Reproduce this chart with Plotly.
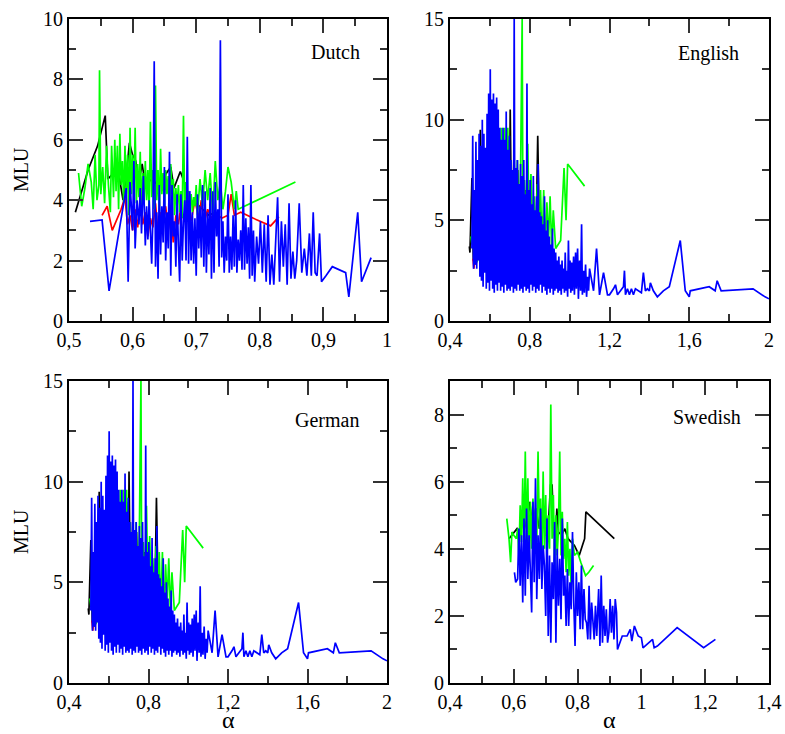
import plotly.graph_objects as go

# ---------------- Dutch ----------------
dutch_black_x = [0.51, 0.52, 0.53, 0.545, 0.557, 0.561, 0.57, 0.578, 0.585, 0.59, 0.595, 0.6, 0.605, 0.61, 0.615, 0.62, 0.63, 0.64, 0.65, 0.66, 0.665, 0.675, 0.683, 0.69, 0.7, 0.71, 0.72, 0.73]
dutch_black_y = [3.6, 4.3, 5.0, 5.8, 6.8, 4.7, 4.9, 4.9, 4.0, 4.8, 5.9, 5.5, 5.3, 4.6, 5.2, 4.5, 4.7, 4.5, 4.8, 5.1, 4.4, 4.95, 4.5, 4.0, 3.9, 3.7, 3.5, 3.6]

dutch_red_x = [0.552, 0.56, 0.568, 0.576, 0.582, 0.588, 0.592, 0.596, 0.6, 0.604, 0.608, 0.612, 0.616, 0.62, 0.624, 0.628, 0.632, 0.636, 0.64, 0.644, 0.648, 0.652, 0.656, 0.66, 0.664, 0.668, 0.672, 0.676, 0.68, 0.686, 0.692, 0.698, 0.704, 0.708, 0.712, 0.718, 0.724, 0.73, 0.74, 0.75, 0.755, 0.76, 0.77, 0.79, 0.817, 0.83]
dutch_red_y = [3.5, 3.8, 3.0, 3.4, 3.7, 4.1, 3.2, 3.5, 3.0, 3.7, 3.1, 3.9, 3.2, 3.6, 2.8, 3.4, 3.1, 3.9, 2.9, 3.6, 3.3, 3.8, 3.0, 3.6, 2.6, 3.5, 3.2, 3.8, 3.4, 3.7, 3.3, 4.0, 3.4, 4.0, 3.2, 3.7, 3.4, 3.6, 3.4, 3.5, 4.2, 3.5, 3.6, 3.4, 3.15, 3.45]

dutch_green_x = [0.515, 0.52, 0.525, 0.53, 0.535, 0.538, 0.541, 0.544, 0.547, 0.548, 0.55, 0.553, 0.556, 0.559, 0.562, 0.565, 0.567, 0.57, 0.572, 0.574, 0.576, 0.578, 0.58, 0.582, 0.584, 0.586, 0.588, 0.59, 0.592, 0.594, 0.596, 0.598, 0.6, 0.602, 0.604, 0.606, 0.608, 0.61, 0.612, 0.614, 0.616, 0.618, 0.62, 0.622, 0.624, 0.626, 0.628, 0.63, 0.632, 0.634, 0.636, 0.638, 0.64, 0.642, 0.644, 0.646, 0.648, 0.65, 0.652, 0.654, 0.656, 0.658, 0.66, 0.662, 0.664, 0.666, 0.668, 0.67, 0.672, 0.674, 0.676, 0.678, 0.68, 0.682, 0.684, 0.686, 0.688, 0.69, 0.692, 0.694, 0.696, 0.698, 0.7, 0.702, 0.706, 0.71, 0.714, 0.718, 0.722, 0.726, 0.73, 0.734, 0.738, 0.742, 0.746, 0.75, 0.755, 0.76, 0.763, 0.766, 0.856]
dutch_green_y = [4.9, 3.8, 4.4, 5.2, 4.6, 3.7, 5.5, 4.0, 4.5, 8.3, 4.2, 5.1, 3.9, 5.8, 4.5, 3.6, 5.8, 4.1, 6.0, 4.3, 5.8, 3.7, 6.2, 4.5, 5.3, 3.9, 5.8, 4.2, 5.5, 3.5, 6.4, 4.2, 5.5, 4.0, 6.4, 3.9, 5.2, 4.1, 5.6, 3.6, 4.9, 3.9, 5.3, 4.0, 5.0, 3.6, 6.6, 4.1, 5.0, 3.7, 7.8, 4.0, 5.0, 3.6, 5.7, 4.2, 4.9, 3.8, 5.0, 4.2, 4.8, 3.6, 5.2, 4.2, 4.7, 3.5, 4.4, 3.8, 4.5, 3.6, 4.3, 3.4, 6.8, 3.6, 4.6, 3.9, 4.3, 3.8, 4.2, 3.6, 4.1, 3.8, 4.5, 3.5, 4.7, 3.8, 5.0, 4.0, 4.9, 3.5, 5.3, 4.0, 4.6, 3.7, 4.3, 5.1, 4.6, 3.7, 4.3, 3.7, 4.6]

dutch_blue_x = [0.533, 0.552, 0.563, 0.59, 0.593, 0.596, 0.6, 0.602, 0.604, 0.607, 0.61, 0.612, 0.614, 0.617, 0.62, 0.622, 0.624, 0.626, 0.628, 0.63, 0.632, 0.634, 0.636, 0.638, 0.64, 0.642, 0.644, 0.646, 0.648, 0.65, 0.652, 0.654, 0.656, 0.658, 0.66, 0.662, 0.664, 0.666, 0.668, 0.67, 0.672, 0.674, 0.676, 0.678, 0.68, 0.682, 0.684, 0.686, 0.688, 0.69, 0.692, 0.694, 0.696, 0.698, 0.7, 0.702, 0.704, 0.706, 0.708, 0.71, 0.712, 0.714, 0.716, 0.718, 0.72, 0.722, 0.724, 0.726, 0.728, 0.73, 0.732, 0.734, 0.736, 0.738, 0.74, 0.742, 0.744, 0.746, 0.748, 0.75, 0.752, 0.754, 0.756, 0.758, 0.76, 0.762, 0.764, 0.766, 0.768, 0.77, 0.772, 0.774, 0.776, 0.778, 0.78, 0.782, 0.784, 0.786, 0.788, 0.79, 0.792, 0.795, 0.798, 0.801, 0.804, 0.807, 0.81, 0.813, 0.816, 0.819, 0.822, 0.825, 0.828, 0.831, 0.834, 0.837, 0.84, 0.843, 0.846, 0.849, 0.852, 0.855, 0.858, 0.862, 0.866, 0.87, 0.874, 0.878, 0.881, 0.884, 0.887, 0.89, 0.894, 0.897, 0.9, 0.904, 0.914, 0.935, 0.94, 0.954, 0.96, 0.975]
dutch_blue_y = [3.3, 3.35, 1.0, 4.4, 1.3, 4.6, 3.0, 5.3, 2.4, 4.0, 3.2, 4.4, 2.9, 4.8, 2.5, 3.8, 2.7, 4.0, 3.0, 1.9, 3.5, 8.6, 1.8, 3.6, 1.4, 4.5, 2.2, 3.8, 2.6, 5.1, 2.0, 3.6, 2.4, 5.6, 1.5, 4.5, 2.8, 3.3, 1.8, 4.2, 2.5, 1.3, 4.2, 2.0, 3.3, 4.0, 2.0, 6.1, 1.9, 4.3, 2.0, 3.6, 1.9, 3.4, 1.5, 4.2, 2.4, 3.8, 2.1, 4.5, 1.8, 4.3, 1.6, 3.6, 2.2, 4.4, 1.4, 4.3, 1.6, 4.6, 2.8, 3.7, 1.8, 9.3, 2.1, 3.3, 1.6, 2.8, 2.0, 4.2, 1.6, 2.8, 1.7, 3.5, 1.8, 4.0, 1.6, 2.7, 2.0, 3.0, 1.7, 4.5, 1.7, 3.4, 1.9, 3.1, 1.4, 4.5, 1.5, 3.0, 1.3, 2.8, 1.9, 3.3, 1.6, 3.2, 1.3, 3.5, 1.2, 2.2, 1.2, 2.5, 4.1, 1.3, 3.3, 1.8, 3.2, 1.2, 3.9, 1.4, 2.3, 1.4, 2.0, 3.9, 1.6, 2.4, 1.5, 2.9, 1.5, 3.6, 1.6, 1.5, 2.9, 1.3, 1.4, 1.5, 1.8, 1.6, 0.8, 3.6, 1.3, 2.1]

# ---------------- English (the German panel shows the same curves) ----------------
english_black_x = [0.497, 0.5, 0.51, 0.517, 0.525, 0.532, 0.54, 0.547, 0.552, 0.56, 0.57, 0.58, 0.59, 0.6, 0.61, 0.62, 0.63, 0.64, 0.65, 0.66, 0.67, 0.68, 0.69, 0.698, 0.702, 0.71, 0.72, 0.73, 0.74, 0.75, 0.76, 0.77, 0.78, 0.79, 0.8, 0.81, 0.82, 0.83, 0.84, 0.85, 0.86]
english_black_y = [3.7, 3.4, 7.1, 3.0, 6.0, 3.0, 7.0, 3.2, 9.5, 2.8, 8.0, 3.0, 8.5, 3.2, 9.0, 3.0, 9.5, 3.5, 9.0, 3.2, 8.6, 3.0, 9.0, 3.5, 10.5, 3.5, 8.0, 3.5, 7.5, 3.6, 7.0, 3.5, 6.5, 3.4, 6.0, 3.2, 5.5, 3.0, 9.2, 3.5, 5.0]

english_red_x = [0.515, 0.52, 0.525, 0.53, 0.535]
english_red_y = [3.1, 2.6, 3.2, 2.8, 3.0]

english_green_x = [0.505, 0.51, 0.515, 0.52, 0.525, 0.53, 0.538, 0.546, 0.554, 0.562, 0.57, 0.578, 0.586, 0.594, 0.602, 0.61, 0.618, 0.626, 0.634, 0.642, 0.65, 0.658, 0.666, 0.674, 0.682, 0.69, 0.698, 0.706, 0.714, 0.722, 0.73, 0.738, 0.746, 0.754, 0.762, 0.766, 0.774, 0.782, 0.79, 0.798, 0.806, 0.814, 0.822, 0.83, 0.838, 0.846, 0.854, 0.862, 0.87, 0.878, 0.886, 0.894, 0.902, 0.91, 0.918, 0.926, 0.93, 0.955, 0.972, 0.982, 0.99, 1.075]
english_green_y = [4.2, 3.8, 5.0, 3.3, 4.0, 2.9, 3.0, 7.5, 3.2, 8.0, 3.5, 8.3, 3.4, 9.0, 3.6, 8.7, 3.5, 9.5, 3.3, 9.6, 3.8, 9.6, 3.4, 9.6, 3.6, 9.6, 4.0, 8.0, 3.5, 8.0, 4.5, 8.0, 3.8, 7.5, 15.0, 4.5, 7.0, 4.2, 8.8, 4.0, 7.3, 4.3, 6.2, 3.8, 6.8, 4.0, 6.5, 3.6, 6.5, 3.4, 5.9, 4.0, 6.2, 3.6, 5.5, 4.2, 3.6, 4.0, 7.6, 5.0, 7.8, 6.7]

english_blue_x = [0.51, 0.514, 0.518, 0.522, 0.526, 0.53, 0.534, 0.538, 0.542, 0.546, 0.55, 0.554, 0.558, 0.562, 0.566, 0.57, 0.574, 0.578, 0.582, 0.586, 0.59, 0.594, 0.598, 0.602, 0.606, 0.61, 0.614, 0.618, 0.622, 0.626, 0.63, 0.634, 0.638, 0.642, 0.646, 0.65, 0.654, 0.658, 0.662, 0.666, 0.67, 0.674, 0.678, 0.682, 0.686, 0.69, 0.694, 0.698, 0.702, 0.706, 0.71, 0.714, 0.718, 0.722, 0.726, 0.73, 0.734, 0.738, 0.742, 0.746, 0.75, 0.754, 0.758, 0.762, 0.766, 0.77, 0.774, 0.778, 0.782, 0.786, 0.79, 0.794, 0.798, 0.802, 0.806, 0.81, 0.814, 0.818, 0.822, 0.826, 0.83, 0.834, 0.838, 0.842, 0.846, 0.85, 0.854, 0.858, 0.862, 0.866, 0.87, 0.874, 0.878, 0.882, 0.886, 0.89, 0.894, 0.898, 0.902, 0.906, 0.91, 0.914, 0.918, 0.922, 0.926, 0.93, 0.934, 0.938, 0.942, 0.946, 0.95, 0.954, 0.958, 0.962, 0.966, 0.97, 0.974, 0.978, 0.982, 0.986, 0.99, 0.994, 0.998, 1.002, 1.006, 1.01, 1.014, 1.02, 1.024, 1.03, 1.034, 1.04, 1.044, 1.05, 1.055, 1.06, 1.064, 1.07, 1.074, 1.08, 1.085, 1.09, 1.095, 1.1, 1.12, 1.135, 1.15, 1.17, 1.19, 1.2, 1.22, 1.23, 1.24, 1.26, 1.27, 1.275, 1.28, 1.29, 1.3, 1.31, 1.32, 1.33, 1.36, 1.37, 1.38, 1.39, 1.4, 1.405, 1.42, 1.44, 1.47, 1.5, 1.555, 1.58, 1.6, 1.605, 1.7, 1.73, 1.74, 1.76, 1.92, 1.98, 2.0]
english_blue_y = [3.6, 9.2, 2.6, 6.5, 2.8, 8.9, 2.6, 8.0, 3.0, 9.3, 2.2, 8.7, 2.0, 10.0, 1.7, 9.3, 2.4, 8.6, 1.6, 10.3, 1.9, 11.3, 1.5, 12.5, 2.0, 11.0, 1.6, 11.3, 1.4, 10.8, 1.8, 11.1, 1.5, 10.5, 1.9, 9.6, 1.5, 9.0, 1.7, 9.6, 1.4, 9.0, 1.8, 10.4, 1.5, 8.5, 1.6, 9.2, 1.5, 8.0, 1.7, 7.5, 1.4, 15.0, 1.6, 7.6, 1.5, 8.0, 1.8, 6.8, 1.5, 7.8, 1.6, 7.2, 1.4, 8.0, 1.7, 6.3, 1.5, 11.8, 1.6, 6.5, 1.4, 7.0, 1.8, 5.8, 1.5, 7.2, 1.7, 5.5, 1.4, 6.2, 1.6, 7.8, 1.5, 5.4, 1.8, 5.2, 1.4, 4.8, 1.7, 6.2, 1.5, 4.5, 1.3, 5.0, 1.6, 4.2, 1.4, 3.8, 1.6, 4.6, 1.3, 3.6, 1.5, 3.4, 1.6, 3.0, 1.4, 3.2, 1.5, 2.8, 1.3, 3.0, 1.6, 2.6, 1.4, 3.4, 1.5, 2.5, 1.2, 4.0, 1.6, 3.0, 1.4, 2.9, 1.5, 3.2, 1.3, 3.4, 1.6, 3.6, 1.1, 3.0, 1.5, 4.8, 1.3, 2.5, 1.4, 2.8, 1.2, 2.2, 1.5, 2.6, 1.5, 3.6, 1.3, 2.4, 1.3, 1.3, 1.6, 1.8, 1.3, 1.6, 1.7, 2.5, 1.3, 1.6, 1.3, 1.6, 1.3, 1.6, 1.4, 2.4, 1.5, 1.6, 1.5, 1.9, 1.5, 1.2, 1.5, 1.7, 4.0, 1.5, 1.2, 1.5, 1.7, 1.5, 2.0, 1.5, 1.6, 1.2, 1.1]

german_black_x, german_black_y = english_black_x, english_black_y
german_red_x, german_red_y = english_red_x, english_red_y
german_green_x, german_green_y = english_green_x, english_green_y
german_blue_x, german_blue_y = english_blue_x, english_blue_y

# ---------------- Swedish ----------------
swedish_black_x = [0.585, 0.6, 0.61, 0.62, 0.63, 0.64, 0.65, 0.66, 0.67, 0.68, 0.69, 0.7, 0.71, 0.715, 0.72, 0.725, 0.73, 0.735, 0.74, 0.75, 0.76, 0.77, 0.78, 0.79, 0.8, 0.805, 0.815, 0.822, 0.826, 0.915]
swedish_black_y = [4.3, 4.5, 4.6, 4.4, 5.0, 4.6, 5.4, 4.5, 5.2, 4.6, 5.0, 4.4, 5.0, 5.9, 5.9, 4.6, 4.2, 5.2, 4.5, 4.4, 4.6, 4.3, 4.2, 4.1, 3.9, 3.8, 4.1, 4.3, 5.1, 4.3]

swedish_green_x = [0.578, 0.585, 0.59, 0.594, 0.6, 0.608, 0.612, 0.616, 0.62, 0.624, 0.628, 0.632, 0.636, 0.64, 0.644, 0.648, 0.652, 0.656, 0.66, 0.664, 0.668, 0.672, 0.676, 0.68, 0.684, 0.688, 0.692, 0.696, 0.7, 0.704, 0.708, 0.712, 0.716, 0.72, 0.724, 0.728, 0.732, 0.736, 0.74, 0.744, 0.748, 0.752, 0.756, 0.76, 0.764, 0.768, 0.772, 0.776, 0.78, 0.784, 0.79, 0.8, 0.81, 0.825, 0.835, 0.85]
swedish_green_y = [4.9, 4.3, 3.6, 4.5, 4.4, 4.3, 4.6, 3.8, 5.3, 4.2, 6.1, 3.9, 6.9, 4.2, 6.1, 3.6, 5.4, 4.0, 5.5, 4.6, 5.2, 4.2, 6.9, 4.6, 5.5, 3.6, 6.3, 4.0, 5.6, 3.6, 5.0, 4.0, 8.3, 4.3, 5.6, 3.4, 5.0, 3.8, 4.6, 6.9, 3.8, 5.1, 3.7, 4.3, 3.3, 4.8, 3.2, 4.0, 2.8, 4.3, 3.8, 3.9, 3.6, 3.2, 3.3, 3.5]

swedish_blue_x = [0.602, 0.606, 0.612, 0.616, 0.62, 0.624, 0.628, 0.632, 0.636, 0.64, 0.644, 0.648, 0.652, 0.656, 0.66, 0.664, 0.668, 0.672, 0.676, 0.68, 0.684, 0.688, 0.692, 0.696, 0.7, 0.704, 0.708, 0.712, 0.716, 0.72, 0.724, 0.728, 0.732, 0.736, 0.74, 0.744, 0.748, 0.752, 0.756, 0.76, 0.764, 0.768, 0.772, 0.776, 0.78, 0.784, 0.788, 0.792, 0.796, 0.8, 0.804, 0.808, 0.812, 0.816, 0.82, 0.824, 0.828, 0.832, 0.836, 0.84, 0.844, 0.848, 0.852, 0.856, 0.86, 0.866, 0.87, 0.874, 0.878, 0.882, 0.886, 0.89, 0.894, 0.898, 0.902, 0.906, 0.91, 0.914, 0.918, 0.922, 0.925, 0.94, 0.955, 0.965, 0.97, 0.978, 0.99, 1.0, 1.005, 1.035, 1.04, 1.05, 1.112, 1.195, 1.232]
swedish_blue_y = [3.3, 3.0, 3.1, 4.6, 2.9, 4.4, 2.4, 4.9, 2.6, 5.2, 3.1, 4.4, 3.3, 2.1, 5.4, 3.0, 6.1, 2.5, 4.4, 3.1, 5.2, 2.8, 4.1, 3.5, 2.0, 4.9, 1.4, 3.8, 1.2, 3.6, 2.5, 4.8, 1.2, 4.0, 2.3, 3.7, 1.9, 4.9, 2.6, 3.2, 1.7, 3.4, 1.7, 3.0, 2.2, 4.5, 2.4, 1.1, 3.3, 2.0, 3.0, 1.6, 3.5, 1.6, 2.8, 1.9, 1.8, 1.3, 2.9, 1.3, 2.4, 1.7, 1.3, 2.3, 1.4, 2.8, 1.1, 3.2, 1.2, 2.3, 1.4, 2.2, 1.2, 1.5, 2.5, 1.5, 2.3, 1.3, 2.5, 2.1, 1.0, 1.4, 1.4, 1.6, 1.25, 1.7, 1.4, 1.35, 1.05, 1.3, 1.05, 1.1, 1.65, 1.05, 1.3]

# tick values of each panel
dutch_xticks = [0.5, 0.6, 0.7, 0.8, 0.9, 1.0]
dutch_yticks = [0, 2, 4, 6, 8, 10]
english_xticks = [0.4, 0.8, 1.2, 1.6, 2.0]
english_yticks = [0, 5, 10, 15]
german_xticks = [0.4, 0.8, 1.2, 1.6, 2.0]
german_yticks = [0, 5, 10, 15]
swedish_xticks = [0.4, 0.6, 0.8, 1.0, 1.2, 1.4]
swedish_yticks = [0, 2, 4, 6, 8]

BLACK, RED, GREEN, BLUE = "#000000", "#ff0000", "#00ff00", "#0000ff"

W, H = 785, 734
FONT = "Liberation Serif"


def dom_x(a, b):
    return [a / W, b / W]


def dom_y(top, bottom):
    return [1 - bottom / H, 1 - top / H]


def px(x):
    return x / W


def py(y):
    return 1 - y / H


panels = [
    dict(name="Dutch", xd=dom_x(69, 387), yd=dom_y(19, 321), xr=[0.5, 1.0], xt=dutch_xticks, xmin=0.05,
         yr=[0, 10], yt=dutch_yticks, ymin=1,
         data=[(dutch_black_x, dutch_black_y, BLACK), (dutch_red_x, dutch_red_y, RED),
               (dutch_green_x, dutch_green_y, GREEN), (dutch_blue_x, dutch_blue_y, BLUE)],
         ylab=True, xlab=False, lab=(335, 52)),
    dict(name="English", xd=dom_x(450, 769), yd=dom_y(19, 321), xr=[0.4, 2.0], xt=english_xticks, xmin=0.2,
         yr=[0, 15], yt=english_yticks, ymin=2.5,
         data=[(english_black_x, english_black_y, BLACK), (english_red_x, english_red_y, RED),
               (english_green_x, english_green_y, GREEN), (english_blue_x, english_blue_y, BLUE)],
         ylab=False, xlab=False, lab=(708, 53)),
    dict(name="German", xd=dom_x(69, 387), yd=dom_y(381, 683), xr=[0.4, 2.0], xt=german_xticks, xmin=0.2,
         yr=[0, 15], yt=german_yticks, ymin=2.5,
         data=[(german_black_x, german_black_y, BLACK), (german_red_x, german_red_y, RED),
               (german_green_x, german_green_y, GREEN), (german_blue_x, german_blue_y, BLUE)],
         ylab=True, xlab=True, lab=(327, 420)),
    dict(name="Swedish", xd=dom_x(450, 769), yd=dom_y(381, 683), xr=[0.4, 1.4], xt=swedish_xticks, xmin=0.1,
         yr=[0, 9], yt=swedish_yticks, ymin=1,
         data=[(swedish_black_x, swedish_black_y, BLACK), (swedish_green_x, swedish_green_y, GREEN),
               (swedish_blue_x, swedish_blue_y, BLUE)],
         ylab=False, xlab=True, lab=(707, 417)),
]

fig = go.Figure()
layout = dict(
    width=W, height=H, margin=dict(l=0, r=0, t=0, b=0, autoexpand=False),
    paper_bgcolor="white", plot_bgcolor="white", showlegend=False,
    separators=",.", font=dict(family=FONT, size=18, color="black"),
)
annotations = []
for i, p in enumerate(panels):
    k = "" if i == 0 else str(i + 1)
    xa, ya = "x" + k, "y" + k
    for xs, ys, c in p["data"]:
        fig.add_trace(go.Scatter(x=xs, y=ys, mode="lines", line=dict(color=c, width=1.7),
                                 xaxis=xa, yaxis=ya, hoverinfo="skip"))
    common = dict(showline=True, linecolor="black", linewidth=2, mirror="ticks", ticks="inside",
                  ticklen=14, tickwidth=2, tickcolor="#333333", showgrid=False, zeroline=False,
                  automargin=False, tickfont=dict(family=FONT, size=20, color="black"))
    minor = dict(ticks="inside", ticklen=7, tickwidth=2, tickcolor="#333333")
    layout["xaxis" + k] = dict(domain=p["xd"], range=p["xr"], tickmode="array", tickvals=p["xt"],
                               ticktext=[("%g" % v).replace(".", ",") for v in p["xt"]],
                               anchor=ya, minor=dict(tick0=p["xr"][0], dtick=p["xmin"], **minor), **common)
    layout["yaxis" + k] = dict(domain=p["yd"], range=p["yr"], tickmode="array", tickvals=p["yt"],
                               ticktext=["%g" % v for v in p["yt"]], anchor=xa,
                               minor=dict(tick0=0, dtick=p["ymin"], **minor), **common)
    annotations.append(dict(text=p["name"], x=px(p["lab"][0]), y=py(p["lab"][1]), xref="paper", yref="paper",
                            showarrow=False, xanchor="center", yanchor="middle",
                            font=dict(family=FONT, size=20, color="black")))
    if p["ylab"]:
        yc = (p["yd"][0] + p["yd"][1]) / 2
        annotations.append(dict(text="MLU", x=px(21), y=yc, xref="paper", yref="paper", textangle=-90,
                                showarrow=False, xanchor="center", yanchor="middle",
                                font=dict(family=FONT, size=20, color="black")))
    if p["xlab"]:
        xc = (p["xd"][0] + p["xd"][1]) / 2
        annotations.append(dict(text="α", x=xc, y=py(734), xref="paper", yref="paper",
                                showarrow=False, xanchor="center", yanchor="bottom", borderpad=0,
                                font=dict(family=FONT, size=24, color="black")))
layout["annotations"] = annotations
fig.update_layout(**layout)
# remove the page's default 8px body margin so the figure fills the window exactly
fig.write_html("out.html", config={"displayModeBar": False},
               post_script="document.body.style.margin='0';")
